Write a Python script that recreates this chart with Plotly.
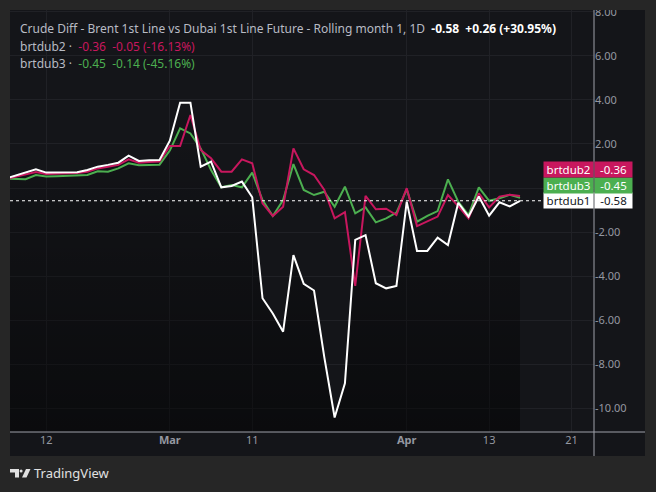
import plotly.graph_objects as go

# ---------------- data ----------------
bar_index = list(range(51))  # daily bars (trading days)

brtdub1 = [0.42, 0.56, 0.71, 0.85, 0.70, 0.70, 0.71, 0.72, 0.82, 0.97,
           1.05, 1.15, 1.47, 1.23, 1.26, 1.27, 2.15, 3.88, 3.88, 0.97,
           1.20, 0.03, 0.09, 0.29, -0.42, -5.01, -5.70, -6.53, -3.05, -4.36,
           -4.66, -7.70, -10.43, -8.88, -2.36, -2.14, -4.33, -4.56, -4.45, -0.62,
           -2.86, -2.86, -2.26, -2.59, -0.67, -1.30, -0.39, -1.26, -0.65, -0.84,
           -0.58]

brtdub2 = [0.40, 0.50, 0.62, 0.73, 0.64, 0.65, 0.66, 0.68, 0.74, 0.89,
           0.97, 1.05, 1.30, 1.15, 1.18, 1.20, 1.91, 1.91, 3.32, 1.73,
           1.35, 0.74, 0.74, 1.30, 1.12, -0.70, -1.27, -0.85, 1.80, 0.85,
           0.59, -0.09, -1.38, -1.10, -4.45, -0.36, -0.97, -0.94, -1.23, -0.01,
           -1.73, -1.53, -1.30, -0.32, -0.82, -1.38, -0.24, -0.88, -0.39, -0.31,
           -0.36]

brtdub3 = [0.42, 0.42, 0.40, 0.59, 0.52, 0.53, 0.54, 0.55, 0.59, 0.76,
           0.74, 0.89, 1.12, 1.03, 1.05, 1.06, 1.70, 2.71, 2.48, 1.80,
           0.82, 0.03, 0.14, 0.03, 0.70, -0.55, -1.27, -0.55, 1.09, -0.09,
           -0.32, -0.17, -0.85, 0.06, -1.15, -0.88, -1.56, -1.38, -1.12, -0.06,
           -1.53, -1.27, -1.05, 0.39, -0.62, -1.23, 0.03, -0.58, -0.47, -0.31,
           -0.45]

x_tick_pos = [4, 16, 24, 39, 47, 55]
x_tick_labels = ["12", "<b>Mar</b>", "11", "<b>Apr</b>", "13", "21"]
y_tick_vals = [-10, -8, -6, -4, -2, 0, 2, 4, 6, 8]
# 0.00 is hidden behind the price labels in the reference
y_tick_labels = ["-10.00", "-8.00", "-6.00", "-4.00", "-2.00", "",
                 "2.00", "4.00", "6.00", "8.00"]

title_text = "Crude Diff - Brent 1st Line vs Dubai 1st Line Future - Rolling month 1, 1D"

# ---------------- style ----------------
OUTER = "#262626"
PANE = "#141519"
GRID = "#202126"
AXIS_LINE = "#9ea1aa"
TXT = "#9598a1"
LEG_TXT = "#b8bbc4"
PINK = "#c8175e"
GREEN = "#4caf50"
WHITE = "#ffffff"
FONT = "Noto Sans"

X_RANGE = [0.485, 57.18]
Y_RANGE = [-11.09, 8.09]

W, H = 656, 492
ML, MR, MT, MB = 10, 62, 10, 60
PW, PH = W - ML - MR, H - MT - MB


def px_x(p):
    return (p - ML) / PW


def px_y(p):
    return (H - MB - p) / PH


def change_txt(vals):
    last, prev = vals[-1], vals[-2]
    ch = last - prev
    pct = ch / abs(prev) * 100
    return f"{last:.2f}", f"{ch:+.2f} ({pct:+.2f}%)"


fig = go.Figure()

# baseline for the area fill under brtdub1
fig.add_trace(go.Scatter(x=bar_index, y=[Y_RANGE[0]] * len(bar_index), mode="lines",
                         line=dict(width=0, color="rgba(0,0,0,0)"), hoverinfo="skip",
                         showlegend=False))
fig.add_trace(go.Scatter(x=bar_index, y=brtdub1, mode="lines", fill="tonexty",
                         line=dict(width=0, color="rgba(0,0,0,0)"),
                         fillgradient=dict(type="vertical", start=Y_RANGE[0], stop=4,
                                           colorscale=[[0, "rgba(0,0,0,0.48)"],
                                                       [1, "rgba(0,0,0,0)"]]),
                         hoverinfo="skip", showlegend=False))

fig.add_trace(go.Scatter(x=bar_index, y=brtdub3, mode="lines", name="brtdub3",
                         line=dict(color=GREEN, width=2), showlegend=False))
fig.add_trace(go.Scatter(x=bar_index, y=brtdub2, mode="lines", name="brtdub2",
                         line=dict(color=PINK, width=2), showlegend=False))
fig.add_trace(go.Scatter(x=bar_index, y=brtdub1, mode="lines", name="brtdub1",
                         line=dict(color=WHITE, width=2), showlegend=False))

shapes = [
    # pane background (plot + axes)
    dict(type="rect", xref="paper", yref="paper", x0=0, x1=px_x(645), y0=px_y(456), y1=1,
         fillcolor=PANE, line=dict(width=0), layer="below"),
    # last value dotted line
    dict(type="line", xref="paper", yref="y", x0=0, x1=px_x(545),
         y0=brtdub1[-1], y1=brtdub1[-1], line=dict(color=WHITE, width=1, dash="dot")),
    # price scale border
    dict(type="line", xref="paper", yref="paper", x0=1, x1=1, y0=px_y(456), y1=1,
         line=dict(color=AXIS_LINE, width=1), layer="above"),
    # time scale border
    dict(type="line", xref="paper", yref="paper", x0=0, x1=px_x(645), y0=0, y1=0,
         line=dict(color=AXIS_LINE, width=1), layer="above"),
    # clip top of axis labels
    dict(type="rect", xref="paper", yref="paper", x0=px_x(0), x1=px_x(656), y0=1, y1=px_y(0),
         fillcolor=OUTER, line=dict(width=0), layer="above"),
    # TradingView logo
    dict(type="path", xref="paper", yref="paper",
         path=(f"M {px_x(10)},{px_y(469)} L {px_x(19)},{px_y(469)} L {px_x(19)},{px_y(477.5)} "
               f"L {px_x(15)},{px_y(477.5)} L {px_x(15)},{px_y(472.5)} L {px_x(10)},{px_y(472.5)} Z"),
         fillcolor="#e0e0e0", line=dict(width=0)),
    dict(type="circle", xref="paper", yref="paper", x0=px_x(19.6), x1=px_x(22.6),
         y0=px_y(472.6), y1=px_y(469.4), fillcolor="#e0e0e0", line=dict(width=0)),
    dict(type="path", xref="paper", yref="paper",
         path=(f"M {px_x(26)},{px_y(469)} L {px_x(30.5)},{px_y(469)} L {px_x(26.5)},{px_y(477.5)} "
               f"L {px_x(22)},{px_y(477.5)} Z"),
         fillcolor="#e0e0e0", line=dict(width=0)),
]

annotations = []
v1, c1 = change_txt(brtdub1)
v2, c2 = change_txt(brtdub2)
v3, c3 = change_txt(brtdub3)
NB = "\u00a0"
LEG_SIZE = 12
annotations.append(dict(
    xref="paper", yref="paper", x=px_x(18), y=px_y(29), xanchor="left", yanchor="middle",
    showarrow=False, font=dict(family=FONT, size=LEG_SIZE, color=LEG_TXT),
    text=(f"{title_text}{NB}{NB}<b><span style='color:{WHITE}'>{v1}{NB}{NB}{c1}</span></b>")))
annotations.append(dict(
    xref="paper", yref="paper", x=px_x(18), y=px_y(46), xanchor="left", yanchor="middle",
    showarrow=False, font=dict(family=FONT, size=LEG_SIZE, color=LEG_TXT),
    text=f"brtdub2{NB}·{NB}{NB}<span style='color:{PINK}'>{v2}{NB}{NB}{c2}</span>"))
annotations.append(dict(
    xref="paper", yref="paper", x=px_x(18), y=px_y(63), xanchor="left", yanchor="middle",
    showarrow=False, font=dict(family=FONT, size=LEG_SIZE, color=LEG_TXT),
    text=f"brtdub3{NB}·{NB}{NB}<span style='color:{GREEN}'>{v3}{NB}{NB}{c3}</span>"))

# price labels on the right (stacked)
labels = [("brtdub1", brtdub1[-1], WHITE, "#131722", 0),
          ("brtdub3", brtdub3[-1], GREEN, WHITE, 15.6),
          ("brtdub2", brtdub2[-1], PINK, WHITE, 31.2)]
for name, val, bg, fg, shift in labels:
    annotations.append(dict(
        xref="paper", yref="y", x=1, y=brtdub1[-1], yshift=shift, xanchor="right",
        yanchor="middle", showarrow=False, text=name, align="center", width=45, height=11,
        borderpad=2, bgcolor=bg, font=dict(family=FONT, size=11.5, color=fg)))
    annotations.append(dict(
        xref="paper", yref="y", x=1, y=brtdub1[-1], yshift=shift, xanchor="left",
        yanchor="middle", showarrow=False, text=f"{val:.2f}", align="center", width=33,
        height=11, borderpad=2, bgcolor=bg, font=dict(family=FONT, size=11.5, color=fg)))

annotations.append(dict(
    xref="paper", yref="paper", x=px_x(32), y=px_y(473), xanchor="left", yanchor="middle",
    showarrow=False, text="TradingView", font=dict(family=FONT, size=13, color="#e0e0e0")))

fig.update_layout(
    width=W, height=H, margin=dict(l=ML, r=MR, t=MT, b=MB, autoexpand=False),
    paper_bgcolor=OUTER, plot_bgcolor="rgba(0,0,0,0)",
    showlegend=False, shapes=shapes, annotations=annotations,
    xaxis=dict(range=X_RANGE, tickmode="array", tickvals=x_tick_pos, ticktext=x_tick_labels,
               showgrid=True, gridcolor=GRID, gridwidth=1, zeroline=False, showline=False,
               ticks="", automargin=False,
               tickfont=dict(family=FONT, size=11, color=TXT), fixedrange=True),
    yaxis=dict(range=Y_RANGE, side="right", tickmode="array", tickvals=y_tick_vals,
               ticktext=y_tick_labels, showgrid=True, gridcolor=GRID, gridwidth=1,
               zeroline=False, showline=False, ticks="", automargin=False,
               tickfont=dict(family=FONT, size=11, color=TXT), fixedrange=True),
)

fig.write_html("out.html")
